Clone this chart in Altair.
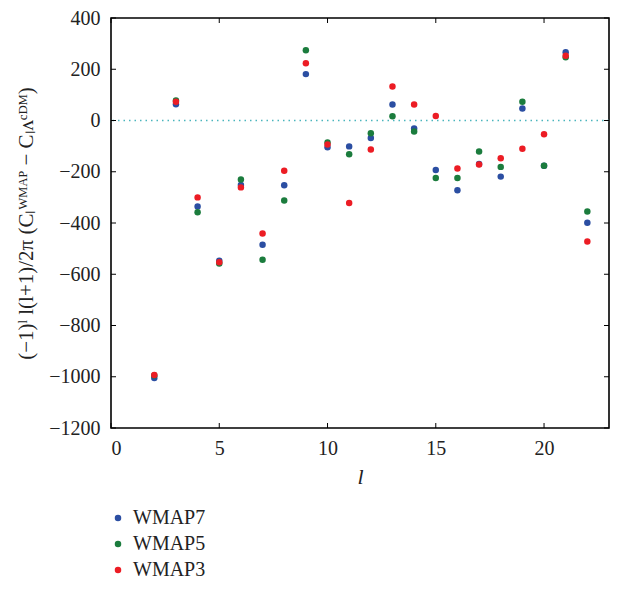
import altair as alt
import pandas as pd

ells = list(range(2, 23))
wmap7 = [-1005, 63, -336, -547, -252, -485, -253, 181, -104, -101, -68, 62, -31, -193, -272, -170, -219, 47, -177, 266, -399]
wmap5 = [-995, 78, -358, -558, -230, -543, -312, 274, -86, -132, -50, 17, -43, -224, -224, -121, -181, 73, -177, 247, -355]
wmap3 = [-993, 73, -300, -553, -261, -441, -196, 223, -94, -322, -113, 133, 62, 18, -187, -172, -147, -110, -54, 253, -472]

series_names = ["WMAP7", "WMAP5", "WMAP3"]
series_colors = ["#2b4ea2", "#1b7c3d", "#ec1c24"]
y_ticks = [-1200, -1000, -800, -600, -400, -200, 0, 200, 400]
x_ticks = [0, 5, 10, 15, 20]

rows = []
for name, vals in zip(series_names, [wmap7, wmap5, wmap3]):
    for l, v in zip(ells, vals):
        rows.append({"l": l, "v": v, "series": name})
df = pd.DataFrame(rows)

W, H = 498, 410
FONT = "Liberation Serif"

xscale = alt.Scale(domain=[0, 23], nice=False, zero=False)
yscale = alt.Scale(domain=[-1200, 400], nice=False, zero=False)

points = alt.Chart(df).mark_circle(size=42, opacity=1).encode(
    x=alt.X("l:Q", scale=xscale,
            axis=alt.Axis(values=x_ticks, title="l", titleFontStyle="italic",
                          titleFontWeight="normal", titleFont=FONT, titleFontSize=22,
                          titlePadding=8, labelFont=FONT, labelFontSize=20,
                          labelPadding=10, tickSize=0, domain=False, grid=False,
                          labelColor="#222", titleColor="#222")),
    y=alt.Y("v:Q", scale=yscale,
            axis=alt.Axis(values=y_ticks, format="d",
                          title="(−1)ˡ l(l+1)/2π (Cₗᵂᴹᴬᴾ − Cₗᴧᶜᴰᴹ)",
                          titleFont=FONT, titleFontSize=21, titleFontWeight="normal",
                          titlePadding=12, labelFont=FONT, labelFontSize=20,
                          labelPadding=11, tickSize=0, domain=False, grid=False,
                          labelColor="#222", titleColor="#222")),
    color=alt.Color("series:N",
                    scale=alt.Scale(domain=series_names, range=series_colors),
                    legend=alt.Legend(title=None, orient="none", legendX=-3, legendY=490,
                                      symbolType="circle", symbolSize=42,
                                      labelFont=FONT, labelFontSize=20, labelColor="#222",
                                      rowPadding=6, padding=0, labelOffset=5)),
)

zero_line = alt.Chart(pd.DataFrame({"v": [0]})).mark_rule(
    color="#4ab5bd", strokeDash=[1.5, 4], strokeWidth=1.3
).encode(y=alt.Y("v:Q", scale=yscale))

ydf = pd.DataFrame({"v": y_ticks})
xdf = pd.DataFrame({"l": x_ticks})
tick_style = dict(color="black", strokeWidth=1)
left_ticks = alt.Chart(ydf).mark_rule(**tick_style).encode(
    y=alt.Y("v:Q", scale=yscale), x=alt.value(0), x2=alt.value(5))
right_ticks = alt.Chart(ydf).mark_rule(**tick_style).encode(
    y=alt.Y("v:Q", scale=yscale), x=alt.value(W - 5), x2=alt.value(W))
bottom_ticks = alt.Chart(xdf).mark_rule(**tick_style).encode(
    x=alt.X("l:Q", scale=xscale), y=alt.value(H - 5), y2=alt.value(H))
top_ticks = alt.Chart(xdf).mark_rule(**tick_style).encode(
    x=alt.X("l:Q", scale=xscale), y=alt.value(0), y2=alt.value(5))

chart = alt.layer(zero_line, left_ticks, right_ticks, bottom_ticks, top_ticks, points).properties(
    width=W, height=H,
    background="white",
    autosize=alt.AutoSizeParams(type="none"),
    padding={"left": 103, "top": 10, "right": 2, "bottom": 154},
).configure_view(stroke="black", strokeWidth=1.6)

chart.save("out.html", embed_options={"renderer": "svg", "actions": False})
